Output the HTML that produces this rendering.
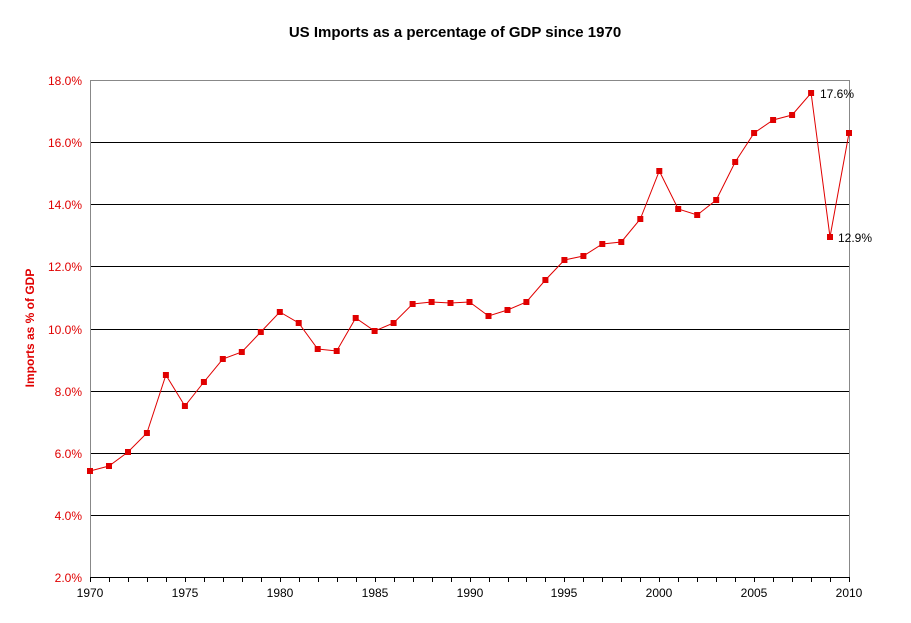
<!DOCTYPE html>
<html><head><style>
body{margin:0;background:#fff;}
svg{display:block;}
</style></head><body>
<svg width="911" height="623" xmlns="http://www.w3.org/2000/svg" font-family="Liberation Sans, Arial, sans-serif">
<rect width="911" height="623" fill="#fff"/>
<text x="455" y="37" text-anchor="middle" font-size="15" font-weight="bold">US Imports as a percentage of GDP since 1970</text>
<text transform="translate(34,328) rotate(-90)" text-anchor="middle" font-size="12" font-weight="bold" fill="#e00000">Imports as % of GDP</text>
<g stroke="#000" stroke-width="1" shape-rendering="crispEdges">
<line x1="90" y1="80.5" x2="849" y2="80.5" stroke="#888"/>
<line x1="90" y1="142.5" x2="849" y2="142.5"/>
<line x1="90" y1="204.5" x2="849" y2="204.5"/>
<line x1="90" y1="266.5" x2="849" y2="266.5"/>
<line x1="90" y1="329.5" x2="849" y2="329.5"/>
<line x1="90" y1="391.5" x2="849" y2="391.5"/>
<line x1="90" y1="453.5" x2="849" y2="453.5"/>
<line x1="90" y1="515.5" x2="849" y2="515.5"/>
<line x1="90" y1="577.5" x2="849" y2="577.5"/>
<line x1="90.5" y1="80" x2="90.5" y2="577" stroke="#888"/>
<line x1="849.5" y1="80" x2="849.5" y2="577" stroke="#888"/>
<path d="M90.5 577v5M109.5 577v5M128.5 577v5M147.5 577v5M166.5 577v5M185.5 577v5M204.5 577v5M223.5 577v5M242.5 577v5M261.5 577v5M280.5 577v5M299.5 577v5M318.5 577v5M337.5 577v5M356.5 577v5M375.5 577v5M394.5 577v5M413.5 577v5M432.5 577v5M451.5 577v5M470.5 577v5M489.5 577v5M508.5 577v5M526.5 577v5M545.5 577v5M564.5 577v5M583.5 577v5M602.5 577v5M621.5 577v5M640.5 577v5M659.5 577v5M678.5 577v5M697.5 577v5M716.5 577v5M735.5 577v5M754.5 577v5M773.5 577v5M792.5 577v5M811.5 577v5M830.5 577v5M849.5 577v5"/>
</g>
<g font-size="12" fill="#e00000" text-anchor="end">
<text x="82" y="85">18.0%</text><text x="82" y="147">16.0%</text><text x="82" y="209">14.0%</text>
<text x="82" y="271">12.0%</text><text x="82" y="334">10.0%</text><text x="82" y="396">8.0%</text>
<text x="82" y="458">6.0%</text><text x="82" y="520">4.0%</text><text x="82" y="582">2.0%</text>
</g>
<g font-size="12" text-anchor="middle">
<text x="90" y="597">1970</text><text x="185" y="597">1975</text><text x="280" y="597">1980</text>
<text x="375" y="597">1985</text><text x="470" y="597">1990</text><text x="564" y="597">1995</text>
<text x="659" y="597">2000</text><text x="754" y="597">2005</text><text x="849" y="597">2010</text>
</g>
<polyline fill="none" stroke="#e00000" stroke-width="1" points="90,471 109,466 128,452 146.9,433 165.9,375 184.9,406 203.9,382 222.8,359 241.8,352 260.8,332 279.8,312 298.7,323 317.7,349 336.7,351 355.7,318 374.6,331 393.6,323 412.6,304 431.6,302 450.5,303 469.5,302 488.5,316 507.5,310 526.4,302 545.4,280 564.4,260 583.4,256 602.3,244 621.3,242 640.3,219 659.3,171 678.2,209 697.2,215 716.2,200 735.2,162 754.1,133 773.1,120 792.1,115 811.1,93 830,237 849,133"/>
<g fill="#e00000">
<rect x="87" y="468" width="6" height="6"/><rect x="106" y="463" width="6" height="6"/><rect x="125" y="449" width="6" height="6"/><rect x="143.9" y="430" width="6" height="6"/><rect x="162.9" y="372" width="6" height="6"/><rect x="181.9" y="403" width="6" height="6"/><rect x="200.9" y="379" width="6" height="6"/><rect x="219.8" y="356" width="6" height="6"/><rect x="238.8" y="349" width="6" height="6"/><rect x="257.8" y="329" width="6" height="6"/><rect x="276.8" y="309" width="6" height="6"/><rect x="295.7" y="320" width="6" height="6"/><rect x="314.7" y="346" width="6" height="6"/><rect x="333.7" y="348" width="6" height="6"/><rect x="352.7" y="315" width="6" height="6"/><rect x="371.6" y="328" width="6" height="6"/><rect x="390.6" y="320" width="6" height="6"/><rect x="409.6" y="301" width="6" height="6"/><rect x="428.6" y="299" width="6" height="6"/><rect x="447.5" y="300" width="6" height="6"/><rect x="466.5" y="299" width="6" height="6"/><rect x="485.5" y="313" width="6" height="6"/><rect x="504.5" y="307" width="6" height="6"/><rect x="523.4" y="299" width="6" height="6"/><rect x="542.4" y="277" width="6" height="6"/><rect x="561.4" y="257" width="6" height="6"/><rect x="580.4" y="253" width="6" height="6"/><rect x="599.3" y="241" width="6" height="6"/><rect x="618.3" y="239" width="6" height="6"/><rect x="637.3" y="216" width="6" height="6"/><rect x="656.3" y="168" width="6" height="6"/><rect x="675.2" y="206" width="6" height="6"/><rect x="694.2" y="212" width="6" height="6"/><rect x="713.2" y="197" width="6" height="6"/><rect x="732.2" y="159" width="6" height="6"/><rect x="751.1" y="130" width="6" height="6"/><rect x="770.1" y="117" width="6" height="6"/><rect x="789.1" y="112" width="6" height="6"/><rect x="808.1" y="90" width="6" height="6"/><rect x="827" y="234" width="6" height="6"/><rect x="846" y="130" width="6" height="6"/>
</g>
<text x="820" y="98" font-size="12">17.6%</text>
<text x="838" y="242" font-size="12">12.9%</text>
</svg>
</body></html>
